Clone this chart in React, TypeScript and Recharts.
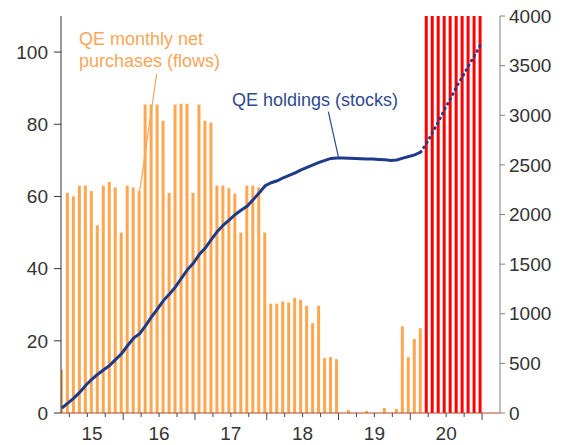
import { Bar, ComposedChart, Line, ReferenceLine, XAxis, YAxis } from "recharts";

// monthly observations, Feb 2015 .. Dec 2020
const months: string[] = [];
for (let y = 2015; y <= 2020; y++) {
  for (let m = 1; m <= 12; m++) {
    if (y === 2015 && m === 1) continue;
    months.push(`${y}-${String(m).padStart(2, "0")}`);
  }
}

// QE monthly net purchases, EUR bn (left axis)
const qeFlows: (number | null)[] = [
  // 2015 (Feb-Dec)
  12, 61, 60, 63, 63, 61.5, 52, 63, 64, 62.5, 50,
  // 2016
  63, 62.5, 61.5, 85.5, 85.5, 85.5, 81, 61, 85.5, 85.7, 85.7, 61,
  // 2017
  85.5, 81, 80.5, 63, 63, 62.3, 60.8, 50, 63, 63, 62.5, 50,
  // 2018
  30.3, 30.3, 30.9, 30.6, 31.9, 31.4, 29.7, 24.9, 29.7, 15.2, 15.5, 14.9,
  // 2019
  0, 0.8, 0, 0, 0.6, 0, 0, 1.4, 0, 1.1, 24, 15.5,
  // 2020 (Jan-Feb)
  20.5, 23.5,
  ...Array(10).fill(null),
];

// projected purchases Mar-Dec 2020, above the top of the scale
const newFlows: (number | null)[] = [
  ...Array(61).fill(null),
  120, 120, 120, 120, 120, 120, 120, 120, 120, 120,
];

// QE holdings, EUR bn (right axis)
const holdings: (number | null)[] = [
  50, 100, 150, 210, 280, 340, 390, 435, 480, 540, 600,
  680, 755, 800, 880, 970, 1050, 1135, 1200, 1270, 1360, 1445, 1510,
  1600, 1665, 1750, 1830, 1894, 1945, 2000, 2045, 2085, 2150, 2220, 2290,
  2320, 2340, 2370, 2395, 2420, 2450, 2475, 2500, 2525, 2545, 2565, 2570,
  2570, 2568, 2565, 2562, 2560, 2558, 2555, 2552, 2545, 2550, 2568, 2585,
  2600, 2630,
  ...Array(10).fill(null),
];

const projection: (number | null)[] = [
  ...Array(60).fill(null),
  2630, 2720, 2830, 2940, 3060, 3170, 3290, 3390, 3500, 3600, 3710,
];

const yearLabels = ["15", "16", "17", "18", "19", "20"];
const leftTicks = [0, 20, 40, 60, 80, 100];
const rightTicks = [0, 500, 1000, 1500, 2000, 2500, 3000, 3500, 4000];

const X_DOMAIN: [number, number] = [1.6, 75];

// months since Jan 2015, observation plotted late in the month
const monthPos = (label: string) => {
  const [y, m] = label.split("-").map(Number);
  return (y - 2015) * 12 + (m - 1) + 0.75;
};

const data = months.map((label, i) => ({
  label,
  t: monthPos(label),
  qe: qeFlows[i],
  pepp: newFlows[i],
  holdings: holdings[i],
  projection: projection[i],
}));

const labelAt = new Map<number, string>();
yearLabels.forEach((lab, k) => {
  const start = Math.max(k * 12, X_DOMAIN[0]);
  labelAt.set((start + (k + 1) * 12) / 2, lab);
});
const quarterTicks: number[] = [];
for (let q = 0; q <= 75; q += 3) {
  if (q >= X_DOMAIN[0] && q <= X_DOMAIN[1] - 1) quarterTicks.push(q);
}
const xTicks = Array.from(new Set([...quarterTicks, ...labelAt.keys()])).sort((a, b) => a - b);

const FONT = "'Liberation Sans', Arial, sans-serif";
const ORANGE = "#FFA650";
const NAVY = "#1E3A8A";

function XTick({ x, y, payload }: any) {
  const v = payload.value as number;
  const isQuarter = Number.isInteger(v) && v % 3 === 0;
  const label = labelAt.get(v);
  return (
    <g>
      {isQuarter ? (
        <line x1={x} x2={x} y1={y} y2={y + (v % 12 === 0 ? 7 : 4)} stroke="#444" strokeWidth={1} />
      ) : null}
      {label ? (
        <text x={x} y={y + 27} textAnchor="middle" fontSize={19} fill="#333" fontFamily={FONT}>
          {label}
        </text>
      ) : null}
    </g>
  );
}

export default function App() {
  return (
    <div style={{ position: "relative", width: 564, height: 445, background: "#fff" }}>
      <style>{`body{margin:0}`}</style>
      <ComposedChart
        width={564}
        height={445}
        data={data}
        margin={{ top: 16, right: 0, bottom: 0, left: 0 }}
      >
        <XAxis
          type="number"
          dataKey="t"
          domain={X_DOMAIN}
          allowDataOverflow
          ticks={xTicks}
          interval={0}
          tickSize={0}
          tickMargin={0}
          tickLine={false}
          axisLine={{ stroke: "#B5452B" }}
          height={32}
          tick={<XTick />}
        />
        <YAxis
          yAxisId="left"
          domain={[0, 110]}
          allowDataOverflow
          ticks={leftTicks}
          interval={0}
          width={61}
          tickSize={7}
          tickMargin={6}
          axisLine={{ stroke: "#333" }}
          tickLine={{ stroke: "#333" }}
          tick={{ fontSize: 19, fill: "#333", fontFamily: FONT }}
        />
        <YAxis
          yAxisId="right"
          orientation="right"
          domain={[0, 4000]}
          ticks={rightTicks}
          interval={0}
          width={64}
          tickSize={5}
          tickMargin={4}
          axisLine={{ stroke: "#808080" }}
          tickLine={{ stroke: "#808080" }}
          tick={{ fontSize: 19, fill: "#333", fontFamily: FONT }}
        />
        <Bar yAxisId="left" dataKey="qe" stackId="flows" fill={ORANGE} barSize={3} isAnimationActive={false} />
        <Bar yAxisId="left" dataKey="pepp" stackId="flows" fill="#FF0000" barSize={3} isAnimationActive={false} />
        <Line
          yAxisId="right"
          type="linear"
          dataKey="holdings"
          stroke={NAVY}
          strokeWidth={3}
          dot={false}
          isAnimationActive={false}
        />
        <Line
          yAxisId="right"
          type="linear"
          dataKey="projection"
          stroke={NAVY}
          strokeWidth={3}
          strokeDasharray="0.5 5"
          strokeLinecap="round"
          dot={false}
          isAnimationActive={false}
        />
        <ReferenceLine
          yAxisId="left"
          segment={[{ x: 17.6, y: 94 }, { x: 14.75, y: 61.5 }]}
          stroke="#F9A65A"
          strokeWidth={1.2}
          ifOverflow="visible"
        />
        <ReferenceLine
          yAxisId="right"
          segment={[{ x: 46.3, y: 3036 }, { x: 48.0, y: 2575 }]}
          stroke="#2E4A8C"
          strokeWidth={1.2}
          ifOverflow="visible"
        />
      </ComposedChart>
      <svg
        width={564}
        height={445}
        style={{ position: "absolute", left: 0, top: 0, pointerEvents: "none" }}
      >
        <g fontFamily={FONT} fontSize={18}>
          <text x={79} y={45} fill="#F9A65A">QE monthly net</text>
          <text x={79} y={67} fill="#F9A65A">purchases (flows)</text>
          <text x={232} y={106} fill="#2E4A8C">QE holdings (stocks)</text>
        </g>
      </svg>
    </div>
  );
}
